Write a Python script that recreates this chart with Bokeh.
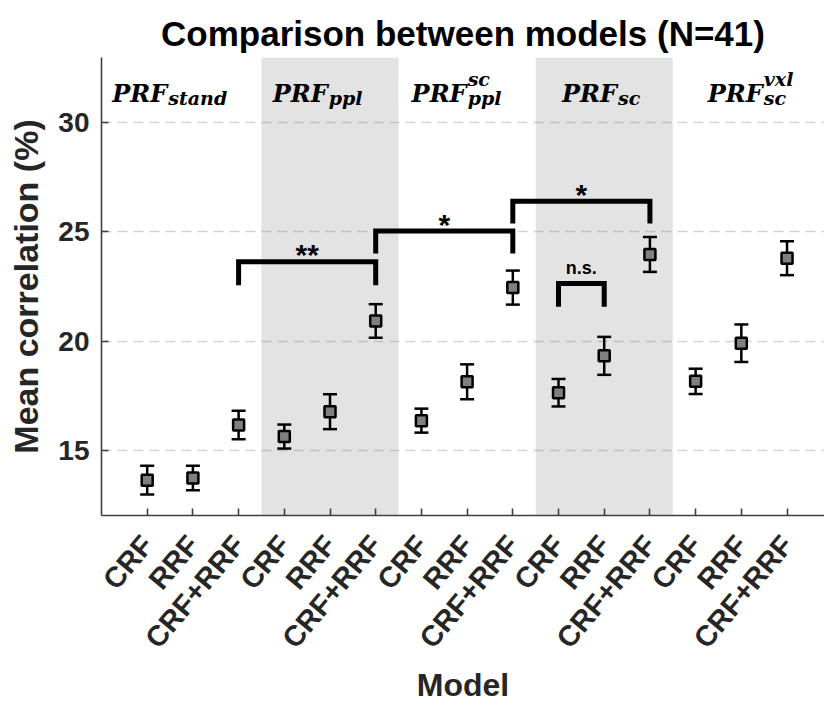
import math

from bokeh.core.properties import value
from bokeh.embed import file_html
from bokeh.models import ColumnDataSource, FixedTicker, Range1d, TeeHead, Whisker
from bokeh.plotting import figure
from bokeh.resources import INLINE

# ---- data -------------------------------------------------------------
positions = list(range(1, 16))
tick_labels = ["CRF", "RRF", "CRF+RRF",
               "CRF", "RRF", "CRF+RRF",
               "CRF", "RRF", "CRF+RRF",
               "CRF", "RRF", "CRF+RRF",
               "CRF", "RRF", "CRF+RRF"]
mean_corr = [13.62, 13.72, 16.15,
             15.62, 16.76, 20.92,
             16.35, 18.13, 22.45,
             17.63, 19.32, 23.97,
             18.15, 19.90, 23.80]
sem_corr = [0.66, 0.56, 0.65,
            0.55, 0.80, 0.77,
            0.55, 0.80, 0.78,
            0.63, 0.87, 0.80,
            0.58, 0.86, 0.78]

# shaded model groups (2nd and 4th)
band_left = [3.5, 9.5]
band_right = [6.5, 12.5]

# model group headers: "PRF" + subscript / superscript
group_main = ["PRF", "PRF", "PRF", "PRF", "PRF"]
group_sub = ["stand", "ppl", "ppl", "sc", "sc"]
group_sup = ["", "", "sc", "", "vxl"]
group_x = [1.44, 4.95, 7.99, 11.28, 14.47]
group_y = 31.35

# significance brackets
bracket_from = [3, 6, 9, 10]
bracket_to = [6, 9, 12, 11]
bracket_top = [23.63, 25.04, 26.41, 22.64]
bracket_leg = [22.56, 24.01, 25.39, 21.57]
bracket_text = ["**", "*", "*", "n.s."]

Y_MIN, Y_MAX = 12, 33
X_MIN, X_MAX = 0, 15.82

FONT = "Liberation Sans"
AXIS_COLOR = "#262626"

p = figure(width=824, height=707, output_backend="svg", toolbar_location=None,
           x_range=Range1d(X_MIN, X_MAX), y_range=Range1d(Y_MIN, Y_MAX),
           min_border_left=101, min_border_right=0,
           min_border_top=57, min_border_bottom=192)
p.outline_line_color = None
p.background_fill_color = "white"

# title
p.title.text = "Comparison between models (N=41)"
p.title.text_font = FONT
p.title.text_font_size = "35px"
p.title.text_font_style = "bold"
p.title.text_color = "black"
p.title.align = "center"
p.title.standoff = 9

# grid
p.xgrid.visible = False
p.ygrid.grid_line_color = "#808080"
p.ygrid.grid_line_alpha = 0.35
p.ygrid.grid_line_width = 1.3
p.ygrid.grid_line_dash = "10 6"
p.ygrid.ticker = FixedTicker(ticks=[15, 20, 25, 30])

# y axis
p.yaxis.ticker = FixedTicker(ticks=[15, 20, 25, 30])
p.yaxis.axis_label = "Mean correlation (%)"
p.yaxis.axis_label_text_font = FONT
p.yaxis.axis_label_text_font_size = "34px"
p.yaxis.axis_label_text_font_style = "bold"
p.yaxis.axis_label_text_color = AXIS_COLOR
p.yaxis.axis_label_standoff = 10
p.yaxis.major_label_text_font = FONT
p.yaxis.major_label_text_font_size = "28px"
p.yaxis.major_label_text_font_style = "bold"
p.yaxis.major_label_text_color = AXIS_COLOR
p.yaxis.major_label_standoff = 12

# x axis
p.xaxis.ticker = FixedTicker(ticks=positions)
p.xaxis.major_label_overrides = {pos: lab for pos, lab in zip(positions, tick_labels)}
p.xaxis.major_label_orientation = math.radians(50)
p.xaxis.major_label_text_font = FONT
p.xaxis.major_label_text_font_size = "29px"
p.xaxis.major_label_text_font_style = "bold"
p.xaxis.major_label_text_color = AXIS_COLOR
p.xaxis.major_label_standoff = 24
p.xaxis.axis_label = "Model"
p.xaxis.axis_label_text_font = FONT
p.xaxis.axis_label_text_font_size = "32px"
p.xaxis.axis_label_text_font_style = "bold"
p.xaxis.axis_label_text_color = AXIS_COLOR
p.xaxis.axis_label_standoff = 0

for ax in (p.xaxis, p.yaxis):
    ax.axis_line_color = "#404040"
    ax.axis_line_width = 1.6
    ax.major_tick_line_color = "#404040"
    ax.major_tick_line_width = 1.6
    ax.major_tick_in = 7
    ax.major_tick_out = 0
    ax.minor_tick_line_color = None

# shaded groups
p.quad(left=band_left, right=band_right, bottom=Y_MIN, top=Y_MAX,
       fill_color="#e3e3e3", line_color=None, level="image")

# error bars and means
src = ColumnDataSource(dict(
    x=positions,
    mean=mean_corr,
    lower=[m - e for m, e in zip(mean_corr, sem_corr)],
    upper=[m + e for m, e in zip(mean_corr, sem_corr)],
))
p.add_layout(Whisker(
    base="x", lower="lower", upper="upper", source=src,
    line_color="black", line_width=2.5,
    lower_head=TeeHead(size=14, line_color="black", line_width=2.5),
    upper_head=TeeHead(size=14, line_color="black", line_width=2.5),
))
p.scatter("x", "mean", source=src, marker="square", size=11,
          fill_color="#808080", line_color="black", line_width=2.5)

# significance brackets
p.multi_line(
    xs=[[a, a, b, b] for a, b in zip(bracket_from, bracket_to)],
    ys=[[lg, tp, tp, lg] for tp, lg in zip(bracket_top, bracket_leg)],
    line_color="black", line_width=5, line_join="miter", line_cap="butt")

star_idx = [i for i, t in enumerate(bracket_text) if t != "n.s."]
ns_idx = [i for i, t in enumerate(bracket_text) if t == "n.s."]
p.text(x=[(bracket_from[i] + bracket_to[i]) / 2 for i in star_idx],
       y=[bracket_top[i] for i in star_idx],
       text=[bracket_text[i] for i in star_idx],
       text_font=value(FONT), text_font_size="30px", text_font_style="bold",
       text_align="center", text_baseline="alphabetic", y_offset=-7,
       text_color="black")
p.text(x=[(bracket_from[i] + bracket_to[i]) / 2 for i in ns_idx],
       y=[bracket_top[i] for i in ns_idx],
       text=[bracket_text[i] for i in ns_idx],
       text_font=value(FONT), text_font_size="18px", text_font_style="bold",
       text_align="center", text_baseline="alphabetic", y_offset=-15,
       text_color="black")

# group headers
SERIF = "DejaVu Serif"
p.text(x=group_x, y=[group_y] * 5, text=group_main,
       text_font=value(SERIF), text_font_size="24px",
       text_font_style="bold italic", text_align="right",
       text_baseline="alphabetic", text_color="black")
p.text(x=group_x, y=[group_y] * 5, text=group_sub,
       text_font=value(SERIF), text_font_size="19px",
       text_font_style="bold italic", text_align="left",
       text_baseline="alphabetic", y_offset=5, x_offset=1, text_color="black")
p.text(x=group_x, y=[group_y] * 5, text=group_sup,
       text_font=value(SERIF), text_font_size="19px",
       text_font_style="bold italic", text_align="left",
       text_baseline="alphabetic", y_offset=-14, x_offset=1, text_color="black")

open("out.html", "w").write(file_html(p, INLINE))
